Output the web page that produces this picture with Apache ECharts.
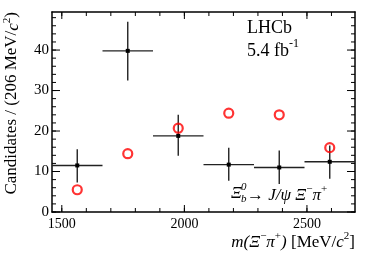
<!DOCTYPE html>
<html><head><meta charset="utf-8">
<script src="https://cdn.jsdelivr.net/npm/echarts@6/dist/echarts.min.js"></script>
<style>html,body{margin:0;padding:0;background:#fff}#c{width:374px;height:253px}</style>
</head><body><div id="c"></div>
<script>
// ---- data ----
const binCenters = [1563, 1769, 1975, 2181, 2387, 2593];
const binWidth = 206;
const counts = [11.5, 39.8, 18.8, 11.7, 11.0, 12.4];
const errLow = [7.3, 32.5, 13.9, 7.7, 6.9, 8.2];
const errHigh = [15.5, 47.0, 24.0, 15.9, 15.2, 16.4];
const expected = [5.5, 14.4, 20.7, 24.4, 24.0, 15.9];
const xMajorTicks = [1500, 2000, 2500];
const xMinorTicks = [1500, 1600, 1700, 1800, 1900, 2000, 2100, 2200, 2300, 2400, 2500, 2600];
const yMajorTicks = [0, 10, 20, 30, 40];
const yMinorTicks = [0, 2, 4, 6, 8, 10, 12, 14, 16, 18, 20, 22, 24, 26, 28, 30, 32, 34, 36, 38, 40, 42, 44, 46, 48];
const xRange = [1460, 2696];
const yRange = [0, 49.4];

const FONT = 'Liberation Serif';
const chart = echarts.init(document.getElementById('c'));

function ax(pos, range, labels, fs, margin) {
  const o = {
    type: 'value', position: pos, min: range[0], max: range[1],
    splitLine: {show: false},
    axisLine: {show: true, onZero: false, lineStyle: {color: '#000', width: 1.5}},
    axisTick: {show: false},
    axisLabel: {show: false}
  };
  if (labels) {
    o.axisLabel = {show: true, customValues: labels, formatter: v => String(v), color: '#000',
      fontFamily: FONT, fontSize: fs, margin: margin};
  }
  return o;
}

const errData = binCenters.map((c, i) => [c, counts[i], errLow[i], errHigh[i]]);
const expData = binCenters.map((c, i) => [c, expected[i]]);
const xTickData = xMajorTicks.map(v => [v, 7]).concat(xMinorTicks.map(v => [v, 4]));
const yTickData = yMajorTicks.map(v => [v, 8]).concat(yMinorTicks.map(v => [v, 4]));
const tickStyle = {stroke: '#000', lineWidth: 1};

const option = {
  animation: false,
  backgroundColor: '#fff',
  grid: {left: 52, right: 19, top: 12, bottom: 41},
  xAxis: [ax('bottom', xRange, xMajorTicks, 14, 5), ax('top', xRange, null)],
  yAxis: [ax('left', yRange, yMajorTicks, 15, 3), ax('right', yRange, null)],
  series: [
    {
      type: 'custom', xAxisIndex: 0, yAxisIndex: 0, data: xTickData, silent: true,
      renderItem: function (params, api) {
        const v = api.value(0), len = api.value(1);
        const b = api.coord([v, yRange[0]]);
        const t = api.coord([v, yRange[1]]);
        return {type: 'group', children: [
          {type: 'line', shape: {x1: b[0], y1: b[1], x2: b[0], y2: b[1] - len}, style: tickStyle},
          {type: 'line', shape: {x1: t[0], y1: t[1], x2: t[0], y2: t[1] + len}, style: tickStyle}
        ]};
      }
    },
    {
      type: 'custom', xAxisIndex: 0, yAxisIndex: 0, data: yTickData, silent: true,
      renderItem: function (params, api) {
        const v = api.value(0), len = api.value(1);
        const l = api.coord([xRange[0], v]);
        const r = api.coord([xRange[1], v]);
        return {type: 'group', children: [
          {type: 'line', shape: {x1: l[0], y1: l[1], x2: l[0] + len, y2: l[1]}, style: tickStyle},
          {type: 'line', shape: {x1: r[0], y1: r[1], x2: r[0] - len, y2: r[1]}, style: tickStyle}
        ]};
      }
    },
    {
      type: 'custom', xAxisIndex: 0, yAxisIndex: 0, data: errData,
      renderItem: function (params, api) {
        const x = api.value(0), y = api.value(1), lo = api.value(2), hi = api.value(3);
        const p = api.coord([x, y]);
        const l = api.coord([x - binWidth / 2, y]);
        const r = api.coord([x + binWidth / 2, y]);
        const t = api.coord([x, hi]);
        const b = api.coord([x, lo]);
        const st = {stroke: '#222', lineWidth: 1.4};
        return {
          type: 'group',
          children: [
            {type: 'line', shape: {x1: l[0], y1: l[1], x2: r[0], y2: r[1]}, style: st},
            {type: 'line', shape: {x1: t[0], y1: t[1], x2: b[0], y2: b[1]}, style: st},
            {type: 'rect', shape: {x: p[0] - 2, y: p[1] - 2, width: 4, height: 4}, style: {fill: '#000'}}
          ]
        };
      }
    },
    {
      type: 'scatter', xAxisIndex: 0, yAxisIndex: 0, data: expData,
      symbol: 'circle', symbolSize: 9,
      itemStyle: {color: 'rgba(0,0,0,0)', borderColor: '#ff0000', borderWidth: 2.2}
    }
  ],
  graphic: [
    {type: 'text', x: 12, y: 12, rotation: Math.PI / 2,
      style: {text: 'Candidates / (206 MeV/{i|c}{sup|2})', align: 'right', verticalAlign: 'middle',
        font: '17px "Liberation Serif"', fill: '#000',
        rich: {i: {fontFamily: FONT, fontStyle: 'italic', fontSize: 17, lineHeight: 20, verticalAlign: 'bottom'},
               sup: {fontFamily: FONT, fontSize: 11, verticalAlign: 'top', lineHeight: 20}}}},
    {type: 'text', x: 355, y: 241,
      style: {text: '{i|m(Ξ}{sup|−}{i|π}{sup|+}{i|)} {n|[MeV/}{i|c}{sup|2}{n|]}', align: 'right', verticalAlign: 'middle',
        font: '17px "Liberation Serif"', fill: '#000',
        rich: {i: {fontFamily: FONT, fontStyle: 'italic', fontSize: 17, lineHeight: 20, verticalAlign: 'bottom'},
               n: {fontFamily: FONT, fontSize: 17, lineHeight: 20, verticalAlign: 'bottom'},
               sup: {fontFamily: FONT, fontSize: 11, lineHeight: 20, verticalAlign: 'top'}}}},
    {type: 'text', x: 247, y: 28,
      style: {text: 'LHCb', align: 'left', verticalAlign: 'middle', font: '18px "Liberation Serif"', fill: '#000'}},
    {type: 'text', x: 247, y: 49,
      style: {text: '{n|5.4 fb}{sup|-1}', align: 'left', verticalAlign: 'middle', font: '18px "Liberation Serif"', fill: '#000',
        rich: {n: {fontFamily: FONT, fontSize: 18, lineHeight: 22, verticalAlign: 'bottom'},
               sup: {fontFamily: FONT, fontSize: 12, lineHeight: 22, verticalAlign: 'top'}}}},
    {type: 'text', x: 231, y: 194,
      style: {text: 'Ξ', align: 'left', verticalAlign: 'middle', font: 'italic 17px "Liberation Serif"', fill: '#000'}},
    {type: 'text', x: 241, y: 187,
      style: {text: '0', align: 'left', verticalAlign: 'middle', font: 'italic 11px "Liberation Serif"', fill: '#000'}},
    {type: 'text', x: 241, y: 199,
      style: {text: 'b', align: 'left', verticalAlign: 'middle', font: 'italic 11px "Liberation Serif"', fill: '#000'}},
    {type: 'text', x: 247, y: 194,
      style: {text: '{n|→}{i| J/ψ Ξ}{sup|−}{i|π}{sup|+}', align: 'left', verticalAlign: 'middle',
        font: 'italic 17px "Liberation Serif"', fill: '#000',
        rich: {n: {fontFamily: FONT, fontSize: 17, lineHeight: 20, verticalAlign: 'bottom'},
               i: {fontFamily: FONT, fontStyle: 'italic', fontSize: 17, lineHeight: 20, verticalAlign: 'bottom'},
               sup: {fontFamily: FONT, fontSize: 11, lineHeight: 20, verticalAlign: 'top'}}}}
  ]
};
chart.setOption(option);
</script>
</body></html>
